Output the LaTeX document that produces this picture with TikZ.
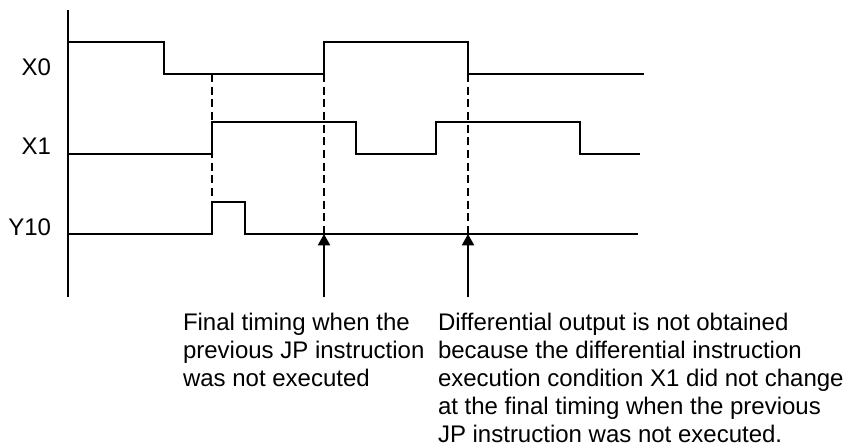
\documentclass[tikz,border=0pt]{standalone}
\usepackage{fontspec}
\setmainfont{Liberation Sans}
\usetikzlibrary{arrows.meta}

\tikzset{every picture/.style={line width=1.5pt}}
\tikzset{
    wave/.style={line width=1.5pt, line join=miter},
    guide/.style={line width=1.3pt, dash pattern={on 6pt off 3.5pt}},
    pointer/.style={line width=1.5pt, -{Triangle[width=9pt,length=8.5pt]}},
    siglabel/.style={anchor=base east, inner sep=0pt, font=\fontsize{18}{21}\selectfont},
    notetext/.style={anchor=north west, inner sep=0pt, align=left, font=\fontsize{18}{21}\selectfont}
}

\begin{document}
\begin{tikzpicture}[
            x=0.75pt,
            y=0.75pt,
            yscale=-1,
            xscale=1,
            every node/.style={text=black},
            line width=1.5pt
        ]
            \useasboundingbox (0,0) rectangle (845,447);
            % time axis
            \draw (68,10) -- (68,297);

            % signal names
            \node[siglabel] (lblXzero) at (52,75) {X0};
            \node[siglabel] (lblXone) at (52,154) {X1};
            \node[siglabel] (lblYten) at (52,235) {Y10};

            % waveforms
            \draw[wave] (68,42) -- (164,42) -- (164,74) -- (324,74) -- (324,42) -- (468,42) -- (468,74) -- (644,74);
            \draw[wave] (68,154) -- (212,154) -- (212,122) -- (356,122) -- (356,154) -- (436,154) -- (436,122) -- (580,122) -- (580,154) -- (640,154);
            \draw[wave] (68,234) -- (212,234) -- (212,202) -- (245,202) -- (245,234) -- (638,234);

            % dashed guides
            \draw[guide] (212,74) -- (212,202);
            \draw[guide] (324,74) -- (324,234);
            \draw[guide] (468,74) -- (468,234);

            % pointers to the final timing
            \coordinate (footA) at (324,297);
            \coordinate (tipA) at (324,234);
            \coordinate (footB) at (468,297);
            \coordinate (tipB) at (468,234);
            \draw[pointer] (footA) -- (tipA);
            \draw[pointer] (footB) -- (tipB);

            % notes
            \node[notetext] (noteFinal) at (182,312) {Final timing when the\\previous JP instruction\\was not executed};
            \node[notetext] (noteDiff) at (437,312) {Differential output is not obtained\\because the differential instruction\\execution condition X1 did not change\\at the final timing when the previous\\JP instruction was not executed.};
        \end{tikzpicture}
\end{document}
